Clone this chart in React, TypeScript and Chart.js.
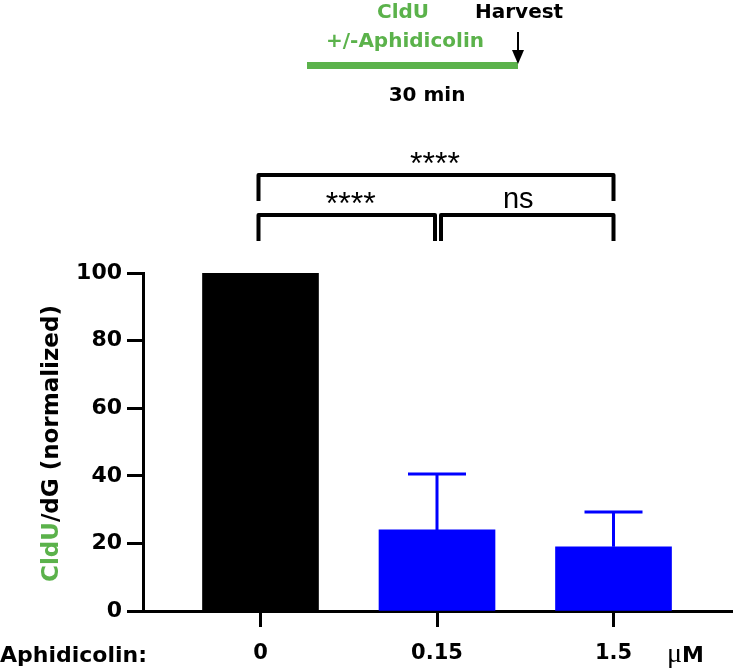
import { useEffect, useRef } from "react";
import { Chart, registerables } from "chart.js";

Chart.register(...registerables);

// ---- data ----
const categories = ["0", "0.15", "1.5"];
const meanValues = [100, 24, 19];
const sdValues = [0, 16.5, 10.3];
const barColors = ["#000000", "#0000ff", "#0000ff"];
const yTickStep = 20;
const yMax = 100;
const comparisons = [
  { from: 0, to: 2, level: 0, label: "****" },
  { from: 0, to: 1, level: 1, label: "****" },
  { from: 1, to: 2, level: 1, label: "ns" },
];

const GREEN = "#5bb24b";
const BOLD = "bold 22px 'DejaVu Sans'";

const errorBars = {
  id: "errorBars",
  afterDatasetsDraw(chart: any) {
    const ctx = chart.ctx;
    const ys = chart.scales.y;
    const meta = chart.getDatasetMeta(0);
    ctx.save();
    meta.data.forEach((el: any, i: number) => {
      const sd = sdValues[i];
      if (!sd) return;
      const top = ys.getPixelForValue(meanValues[i] + sd);
      ctx.strokeStyle = barColors[i];
      ctx.lineWidth = 3;
      ctx.beginPath();
      ctx.moveTo(el.x, el.y);
      ctx.lineTo(el.x, top);
      ctx.moveTo(el.x - 29, top);
      ctx.lineTo(el.x + 29, top);
      ctx.stroke();
    });
    ctx.restore();
  },
};

const overlay = {
  id: "overlay",
  afterDraw(chart: any) {
    const ctx = chart.ctx;
    const xs = chart.scales.x;
    ctx.save();

    // schematic at top
    ctx.fillStyle = GREEN;
    ctx.fillRect(307, 62, 211, 7);
    ctx.font = "bold 20px 'DejaVu Sans'";
    ctx.textAlign = "center";
    ctx.textBaseline = "alphabetic";
    ctx.fillText("CldU", 403, 18);
    ctx.fillText("+/-Aphidicolin", 405, 47);
    ctx.fillStyle = "#000";
    ctx.textAlign = "left";
    ctx.fillText("Harvest", 475, 18);
    ctx.textAlign = "center";
    ctx.fillText("30 min", 427, 101);
    // arrow
    ctx.strokeStyle = "#000";
    ctx.lineWidth = 2;
    ctx.beginPath();
    ctx.moveTo(518, 32);
    ctx.lineTo(518, 52);
    ctx.stroke();
    ctx.beginPath();
    ctx.moveTo(512, 50);
    ctx.lineTo(524, 50);
    ctx.lineTo(518, 64);
    ctx.closePath();
    ctx.fill();

    // significance brackets
    const levelY = [175, 215];
    ctx.lineWidth = 4;
    ctx.lineJoin = "round";
    comparisons.forEach((c) => {
      let x1 = xs.getPixelForValue(c.from) - 2;
      let x2 = xs.getPixelForValue(c.to);
      if (c.level === 1 && c.from === 0) x2 -= 2;
      if (c.level === 1 && c.from === 1) x1 += 6;
      const y = levelY[c.level];
      ctx.beginPath();
      ctx.moveTo(x1, y + 26);
      ctx.lineTo(x1, y);
      ctx.lineTo(x2, y);
      ctx.lineTo(x2, y + 26);
      ctx.stroke();
      ctx.textAlign = "center";
      ctx.textBaseline = "alphabetic";
      const mid = (x1 + x2) / 2;
      if (c.label === "ns") {
        ctx.font = "29px 'Liberation Sans'";
        ctx.fillText(c.label, mid - 9, y - 7);
      } else {
        ctx.font = "32px 'Liberation Sans'";
        ctx.fillText(c.label, c.level === 0 ? mid - 1 : mid + 4, y - 1);
      }
    });

    // y-axis title (two colours)
    ctx.save();
    ctx.translate(58, 582);
    ctx.rotate(-Math.PI / 2);
    ctx.font = "bold 23px 'DejaVu Sans'";
    ctx.textAlign = "left";
    ctx.textBaseline = "alphabetic";
    ctx.fillStyle = GREEN;
    ctx.fillText("CldU", 0, 0);
    const w = ctx.measureText("CldU").width;
    ctx.fillStyle = "#000";
    ctx.fillText("/dG (normalized)", w, 0);
    ctx.restore();

    // x-axis row labels
    ctx.fillStyle = "#000";
    ctx.font = BOLD;
    ctx.textAlign = "left";
    ctx.textBaseline = "alphabetic";
    ctx.fillText("Aphidicolin:", 0, 662);
    ctx.font = "28px 'Liberation Serif'";
    ctx.fillText("\u03bc", 667, 662);
    ctx.font = BOLD;
    ctx.fillText("M", 682, 662);

    ctx.restore();
  },
};

export default function App() {
  const ref = useRef<HTMLCanvasElement>(null);
  useEffect(() => {
    if (!ref.current) return;
    const chart = new Chart(ref.current, {
      type: "bar",
      data: {
        datasets: [
          {
            data: categories.map((_, i) => ({ x: i, y: meanValues[i] })),
            backgroundColor: barColors,
            borderWidth: 0,
            barThickness: 116,
          },
        ],
      },
      options: {
        animation: false,
        responsive: true,
        maintainAspectRatio: false,
        layout: { padding: { top: 273, left: 0, right: 0, bottom: 0 } },
        plugins: { legend: { display: false }, tooltip: { enabled: false } },
        scales: {
          x: {
            type: "linear",
            offset: false,
            min: -0.6657,
            max: 2.677,
            afterBuildTicks: (scale: any) => {
              scale.ticks = categories.map((_, i) => ({ value: i }));
            },
            afterFit: (scale: any) => {
              scale.height = 57;
            },
            ticks: {
              callback: (v: any) => categories[v] ?? "",
              font: { family: "'DejaVu Sans'", size: 21, weight: "bold" },
              color: "#000",
              padding: 14,
              maxRotation: 0,
              autoSkip: false,
            },
            grid: {
              offset: false,
              drawOnChartArea: false,
              drawTicks: true,
              tickLength: 16,
              tickWidth: 3,
              color: "#000",
            },
            border: { color: "#000", width: 3 },
          },
          y: {
            min: 0,
            max: yMax,
            afterFit: (scale: any) => {
              scale.width = 143;
            },
            ticks: {
              stepSize: yTickStep,
              font: { family: "'DejaVu Sans'", size: 22, weight: "bold" },
              color: "#000",
              padding: 5,
            },
            grid: {
              drawOnChartArea: false,
              drawTicks: true,
              tickLength: 16,
              tickWidth: 3,
              color: "#000",
            },
            border: { color: "#000", width: 3 },
          },
        },
      },
      plugins: [errorBars, overlay],
    });
    return () => chart.destroy();
  }, []);
  return (
    <div style={{ position: "fixed", left: 0, top: 0, width: 733, height: 668, background: "#fff" }}>
      <canvas ref={ref} />
    </div>
  );
}
